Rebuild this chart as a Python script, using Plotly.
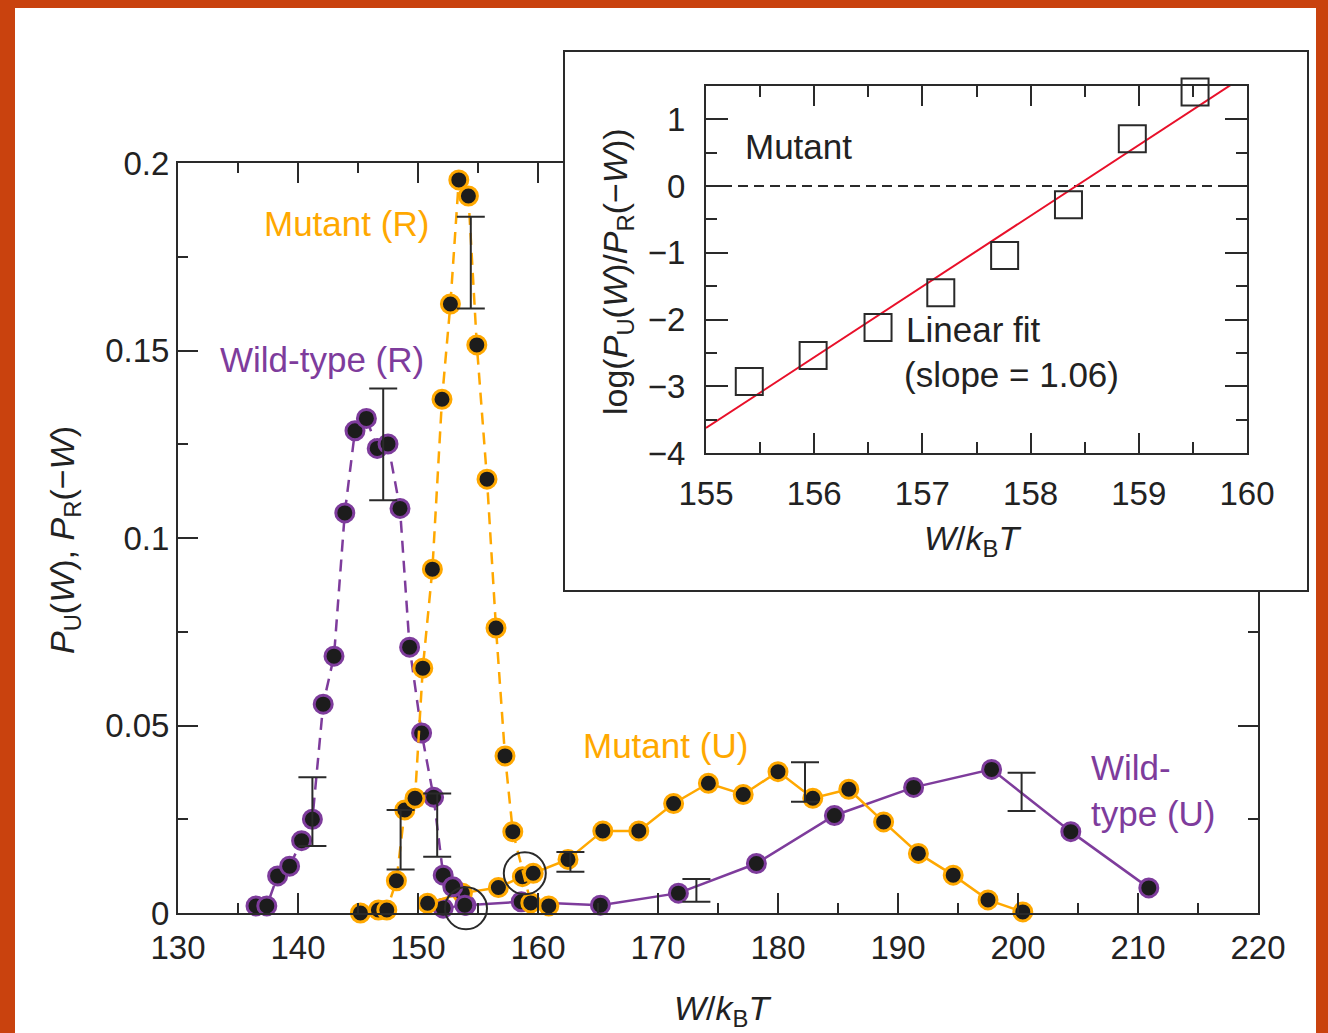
import plotly.graph_objects as go

W, H = 1328, 1033

# ---------------- main panel data ----------------
wt_r_x = [136.5, 137.4, 138.3, 139.3, 140.3, 141.2, 142.1, 143.0, 143.9, 144.75, 145.7, 146.6,
          147.5, 148.5, 149.3, 150.3, 151.3, 152.1, 152.9, 153.9]
wt_r_y = [0.0019, 0.0019, 0.0099, 0.0125, 0.0193, 0.025, 0.0557, 0.0685, 0.1067, 0.1286, 0.1319, 0.1239,
          0.1251, 0.1079, 0.0709, 0.048, 0.0309, 0.0101, 0.007, 0.0021]

mut_r_x = [145.2, 146.7, 147.4, 148.2, 148.9, 149.75, 150.4, 151.2, 152.0, 152.7, 153.4, 154.2,
           154.9, 155.75, 156.5, 157.25, 157.9, 159.4, 160.9]
mut_r_y = [0.0, 0.0008, 0.0008, 0.0086, 0.0275, 0.0306, 0.0653, 0.0917, 0.137, 0.1624, 0.1955, 0.1912,
           0.1515, 0.1157, 0.076, 0.0419, 0.0217, 0.0027, 0.0019]

mut_u_x = [150.8, 153.7, 156.7, 158.7, 159.6, 162.5, 165.4, 168.4, 171.3, 174.2, 177.1, 180.0,
           182.9, 185.9, 188.8, 191.7, 194.6, 197.5, 200.4]
mut_u_y = [0.0026, 0.0053, 0.0068, 0.0097, 0.0106, 0.0143, 0.0219, 0.0219, 0.0292, 0.0346, 0.0316, 0.0377,
           0.0306, 0.033, 0.0243, 0.0159, 0.0101, 0.0035, 0.0003]

wt_u_x = [152.1, 154.0, 158.6, 165.2, 171.7, 178.2, 184.7, 191.3, 197.8, 204.4, 210.9]
wt_u_y = [0.0013, 0.0021, 0.003, 0.0021, 0.0053, 0.0132, 0.026, 0.0335, 0.0383, 0.0217, 0.0067]

err_x = [141.2, 148.55, 151.6, 154.4, 147.1, 162.7, 173.2, 182.25, 200.3]
err_lo = [0.0179, 0.0116, 0.015, 0.1612, 0.1101, 0.011, 0.003, 0.0297, 0.0272]
err_hi = [0.0362, 0.0275, 0.0319, 0.1857, 0.1399, 0.0163, 0.0091, 0.0402, 0.0374]

circle_x = [154.0, 158.9]
circle_y = [0.00125, 0.0106]

main_xticks = [130, 140, 150, 160, 170, 180, 190, 200, 210, 220]
main_yticks = [0, 0.05, 0.1, 0.15, 0.2]
main_yticktext = ["0", "0.05", "0.1", "0.15", "0.2"]

# ---------------- inset data ----------------
ins_x = [155.40, 155.99, 156.59, 157.17, 157.76, 158.35, 158.94, 159.52]
ins_y = [-2.93, -2.54, -2.12, -1.60, -1.04, -0.28, 0.71, 1.41]
fit_slope = 1.06
fit_zero = 158.42
fit_xs = [155, 160]
ins_xticks = [155, 156, 157, 158, 159, 160]
ins_yticks = [-4, -3, -2, -1, 0, 1]

ORANGE = "#FFA800"
PURPLE = "#7E3C9C"
DARK = "#1c1c1c"
AX = "#2a2a2a"
FONT = "Liberation Sans, Arial, Helvetica, sans-serif"


def px(x):
    return x / W


def py(y):
    return 1 - y / H


fig = go.Figure()


def series(x, y, color, dash):
    fig.add_trace(go.Scatter(
        x=x, y=y, mode="lines+markers", cliponaxis=False,
        line=dict(color=color, width=2.5, dash=dash),
        marker=dict(size=18, color=DARK, line=dict(color=color, width=3)),
        hoverinfo="skip", showlegend=False, xaxis="x", yaxis="y"))


series(wt_u_x, wt_u_y, PURPLE, "solid")
series(mut_u_x, mut_u_y, ORANGE, "solid")
series(wt_r_x, wt_r_y, PURPLE, "12px,8px")
series(mut_r_x, mut_r_y, ORANGE, "12px,8px")

mid = [(a + b) / 2 for a, b in zip(err_lo, err_hi)]
half = [(b - a) / 2 for a, b in zip(err_lo, err_hi)]
fig.add_trace(go.Scatter(
    x=err_x, y=mid, mode="markers", cliponaxis=False,
    marker=dict(size=1, color="rgba(0,0,0,0)"),
    error_y=dict(type="data", array=half, symmetric=True, color=AX, thickness=2, width=14),
    hoverinfo="skip", showlegend=False, xaxis="x", yaxis="y"))

fig.add_trace(go.Scatter(
    x=circle_x, y=circle_y, mode="markers", cliponaxis=False,
    marker=dict(symbol="circle-open", size=42, color=AX, line=dict(color=AX, width=2)),
    hoverinfo="skip", showlegend=False, xaxis="x", yaxis="y"))

# frame subplot (white box with border)
fig.add_trace(go.Scatter(x=[], y=[], xaxis="x2", yaxis="y2", showlegend=False, hoverinfo="skip"))

# inset
fig.add_trace(go.Scatter(
    x=[fit_xs[0], fit_xs[1]], y=[0, 0], mode="lines",
    line=dict(color=AX, width=2, dash="10px,6px"),
    hoverinfo="skip", showlegend=False, xaxis="x3", yaxis="y3"))
fig.add_trace(go.Scatter(
    x=fit_xs, y=[fit_slope * (v - fit_zero) for v in fit_xs], mode="lines",
    line=dict(color="#E8102A", width=2),
    hoverinfo="skip", showlegend=False, xaxis="x3", yaxis="y3"))
fig.add_trace(go.Scatter(
    x=ins_x, y=ins_y, mode="markers", cliponaxis=False,
    marker=dict(symbol="square-open", size=27, color=AX, line=dict(color=AX, width=2)),
    hoverinfo="skip", showlegend=False, xaxis="x3", yaxis="y3"))

common_ax = dict(showgrid=False, zeroline=False, showline=True, linecolor=AX, linewidth=2,
                 ticks="inside", tickwidth=2, tickcolor=AX, mirror="ticks", fixedrange=True,
                 tickfont=dict(family=FONT, size=33, color="#222"))

fig.update_layout(
    width=W, height=H,
    margin=dict(l=0, r=0, t=0, b=0, pad=0, autoexpand=False),
    paper_bgcolor="#C9420E",
    plot_bgcolor="white",
    showlegend=False,
    font=dict(family=FONT, color="#222"),
    xaxis=dict(domain=[px(178), px(1258)], range=[130, 220], anchor="y",
               tickmode="array", tickvals=main_xticks, ticklen=20,
               minor=dict(dtick=5, tick0=130, ticklen=10, tickwidth=2, ticks="inside", tickcolor=AX),
               ticklabelstandoff=4, **common_ax),
    yaxis=dict(domain=[py(913), py(163)], range=[0, 0.2], anchor="x",
               tickmode="array", tickvals=main_yticks, ticktext=main_yticktext, ticklen=20,
               minor=dict(dtick=0.025, tick0=0, ticklen=10, tickwidth=2, ticks="inside", tickcolor=AX),
               ticklabelstandoff=0, **common_ax),
    xaxis2=dict(domain=[px(565), px(1307)], range=[0, 1], anchor="y2", showgrid=False, zeroline=False,
                showline=True, mirror=True, linecolor=AX, linewidth=2, ticks="", showticklabels=False,
                fixedrange=True),
    yaxis2=dict(domain=[py(590), py(52)], range=[0, 1], anchor="x2", showgrid=False, zeroline=False,
                showline=True, mirror=True, linecolor=AX, linewidth=2, ticks="", showticklabels=False,
                fixedrange=True),
    xaxis3=dict(domain=[px(706), px(1247)], range=[155, 160], anchor="y3",
                tickmode="array", tickvals=ins_xticks, ticklen=20,
                minor=dict(dtick=0.5, tick0=155, ticklen=11, tickwidth=2, ticks="inside", tickcolor=AX),
                ticklabelstandoff=10, **common_ax),
    yaxis3=dict(domain=[py(453), py(86)], range=[-4, 1.5], anchor="x3",
                tickmode="array", tickvals=ins_yticks, ticklen=22,
                minor=dict(dtick=0.5, tick0=0, ticklen=11, tickwidth=2, ticks="inside", tickcolor=AX),
                ticklabelstandoff=12, **common_ax),
)

# white panel over the orange border
fig.add_shape(type="rect", xref="paper", yref="paper", x0=px(15), x1=px(1316), y0=py(1033), y1=py(8),
              fillcolor="white", line=dict(width=0), layer="below")


def label(text, x, y, color, size=35, xanchor="center", angle=0, align="center"):
    fig.add_annotation(text=text, xref="paper", yref="paper", x=px(x), y=py(y), showarrow=False,
                       xanchor=xanchor, yanchor="middle", textangle=angle, align=align,
                       font=dict(family=FONT, size=size, color=color))


label("Mutant (R)", 347, 223, ORANGE)
label("Wild-type (R)", 322, 359, PURPLE)
label("Mutant (U)", 665, 745, ORANGE)
label("Wild-<br>type (U)", 1089, 790, PURPLE, xanchor="left", align="left")
label("Mutant", 743, 146, "#222", xanchor="left")
label("Linear fit", 904, 330, "#222", xanchor="left")
label("(slope = 1.06)", 902, 374, "#222", xanchor="left")

label("<i>W</i>/<i>k</i><sub>B</sub><i>T</i>", 722, 1010, "#222", size=34)
label("<i>P</i><sub>U</sub>(<i>W</i>), <i>P</i><sub>R</sub>(\u2212<i>W</i>)", 64, 540, "#222", size=34, angle=-90)
label("log(<i>P</i><sub>U</sub>(<i>W</i>)/<i>P</i><sub>R</sub>(\u2212<i>W</i>))", 617, 272, "#222", size=34, angle=-90)
label("<i>W</i>/<i>k</i><sub>B</sub><i>T</i>", 972, 540, "#222", size=34)

fig.write_html("out.html")
